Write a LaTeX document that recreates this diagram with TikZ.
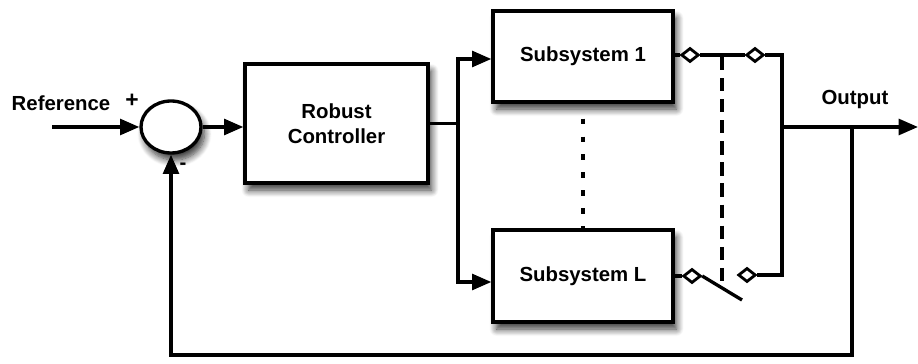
\documentclass[tikz,border=0pt]{standalone}
\usepackage{fontspec}
\setmainfont{Liberation Sans}
\usetikzlibrary{shapes.geometric,arrows.meta,shadows.blur}
\tikzset{>={Triangle[length=11pt,width=9pt]}}
\tikzset{
  block/.style={draw,line width=1.9pt,fill=white,align=center,
    font=\fontsize{11.6}{14}\selectfont\bfseries,
    blur shadow={shadow xshift=2pt,shadow yshift=-4pt,shadow blur steps=10,shadow blur radius=4pt,shadow opacity=80}},
  contact/.style={draw,diamond,line width=1.6pt,fill=white,inner sep=0pt,
    minimum width=10pt,minimum height=8pt},
  lbl/.style={font=\fontsize{11.6}{14}\selectfont\bfseries},
  wire/.style={line width=1.9pt}
}

\begin{document}
\begin{tikzpicture}[x=0.02cm,y=-0.02cm]
  \useasboundingbox (0,0) rectangle (918,364);

  %% blocks
  \node[block,ellipse,minimum width=1.2cm,minimum height=1.04cm] (sum) at (171,127) {};
  \node[block,minimum width=3.66cm,minimum height=2.38cm] (ctrl) at (336.5,123.5) {Robust\\Controller};
  \node[block,minimum width=3.6cm,minimum height=1.82cm] (sub1) at (583,56.5) {Subsystem 1};
  \node[block,minimum width=3.6cm,minimum height=1.84cm] (subL) at (583,276) {Subsystem L};

  %% labels
  \node[lbl] (ref) at (61,103) {Reference};
  \node[lbl,font=\fontsize{13}{14}\selectfont\bfseries] (plus) at (132,101) {+};
  \node[lbl] (minus) at (183,166) {-};
  \node[lbl] (outlbl) at (855,100) {Output};

  %% switch contacts
  \node[contact] (c1a) at (690,55) {};
  \node[contact] (c1b) at (755,55) {};
  \node[contact] (cLa) at (692,276) {};
  \node[contact] (cLb) at (747,275) {};

  \coordinate (in) at (52,127);
  \coordinate (split) at (458,123.5);
  \coordinate (top) at (782,55);
  \coordinate (join) at (782,127);
  \coordinate (tap) at (852,127);
  \coordinate (out) at (918,127);
  \coordinate (bot) at (852,355);
  \coordinate (blade) at (742,300);

  %% forward path
  \draw[wire,->] (in) -- (sum.west);
  \draw[wire,->] (sum.east) -- (sum.east -| ctrl.west);
  \draw[wire] (ctrl.east) -- (split);
  \draw[wire,->] (split) |- ([yshift=-0.05cm]sub1.west);
  \draw[wire,->] (split) |- ([yshift=-0.12cm]subL.west);
  \draw[wire,dash pattern=on 3pt off 7.2pt] ([yshift=-0.3cm]sub1.south) -- (subL.north);

  %% outputs and switches
  \draw[wire] (sub1.east |- c1a) -- (c1a.west);
  \draw[wire] (c1a.east) -- (c1b.west);
  \draw[wire] (c1b.east) -- (top) -- (join) |- (cLb.east);
  \draw[wire] (subL.east |- cLa) -- (cLa.west);
  \draw[wire] (cLa.east) -- (blade);
  \draw[wire,dash pattern=on 7.5pt off 4.5pt] (722,57) -- (722,284);
  \draw[wire,->] (join) -- (out);

  %% feedback
  \draw[wire,->] (tap) -- (bot) -| (sum.south);
\end{tikzpicture}
\end{document}
